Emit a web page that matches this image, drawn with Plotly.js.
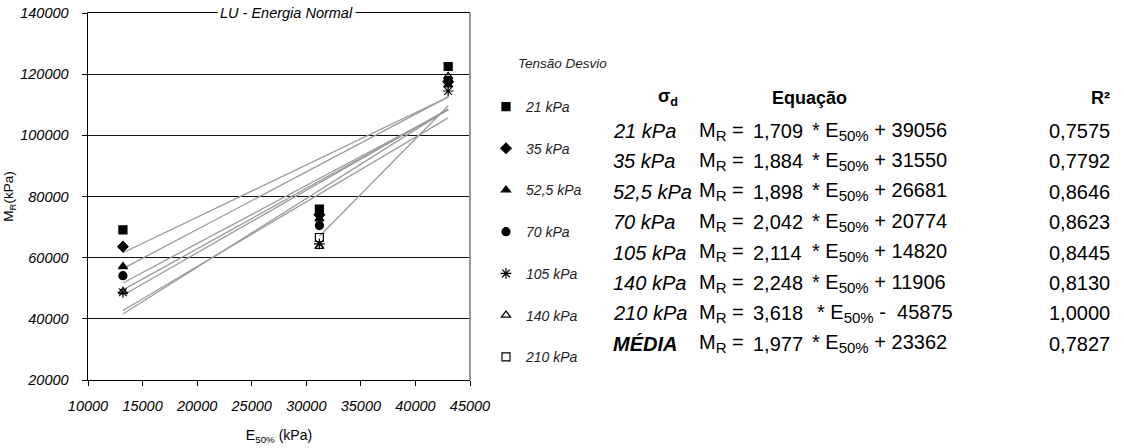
<!DOCTYPE html>
<html>
<head>
<meta charset="utf-8">
<script src="https://cdn.plot.ly/plotly-3.0.1.min.js"></script>
<style>
  html, body { margin: 0; padding: 0; background: #fff; }
  #chart { width: 1124px; height: 448px; }
</style>
</head>
<body>
<div id="chart"></div>
<script>
// E50% of the three specimens (kPa)
const e50 = [13200, 31200, 43000];

// Resilient modulus MR (kPa) per deviator stress, one value per specimen
const stressNames = ['21 kPa', '35 kPa', '52,5 kPa', '70 kPa', '105 kPa', '140 kPa', '210 kPa'];
const mr21  = [69100, 75900, 122500];
const mr35  = [63600, 74000, 117500];
const mr525 = [57100, 72700, 116500];
const mr70  = [54100, 70500, 118000];
const mr105 = [48700, 64500, 114500];
const mr140 = [48900, 63700, 119300];
const mr210 = [null, 66600, null];
const mrSeries = [mr21, mr35, mr525, mr70, mr105, mr140, mr210];

// Linear fits MR = a * E50% + b (last row: average)
const tableLabels = ['21 kPa', '35 kPa', '52,5 kPa', '70 kPa', '105 kPa', '140 kPa', '210 kPa', 'MÉDIA'];
const slopes     = [1.709, 1.884, 1.898, 2.042, 2.114, 2.248, 3.618, 1.977];
const intercepts = [39056, 31550, 26681, 20774, 14820, 11906, -45875, 23362];
const rSquared   = [0.7575, 0.7792, 0.8646, 0.8623, 0.8445, 0.8130, 1.0000, 0.7827];
// first specimen index covered by each fit
const fitFrom    = [0, 0, 0, 0, 0, 0, 1, 0];

// Axis ticks
const xTicks = [10000, 15000, 20000, 25000, 30000, 35000, 40000, 45000];
const yTicks = [20000, 40000, 60000, 80000, 100000, 120000, 140000];

const symbols = ['square', 'diamond', 'triangle-up', 'circle', 'asterisk-open', 'triangle-up-open', 'square-open'];

const SANS = '"Liberation Sans", Arial, sans-serif';

// plot area in page pixels
const L = 88, R = 470, T = 13, B = 380, W = 1124, H = 448;
const px = x => (x - L) / (R - L);
const py = y => (B - y) / (B - T);

const traces = [];

// regression lines
slopes.forEach((a, i) => {
  const xs = [e50[fitFrom[i]], e50[e50.length - 1]];
  traces.push({
    x: xs,
    y: xs.map(v => a * v + intercepts[i]),
    mode: 'lines',
    line: { color: '#9a9a9a', width: 1.3 },
    showlegend: false,
    hoverinfo: 'skip'
  });
});

// measured points
mrSeries.forEach((ys, i) => {
  traces.push({
    x: e50,
    y: ys,
    name: stressNames[i],
    legendgroup: 'g' + i,
    mode: 'markers',
    marker: {
      symbol: symbols[i],
      size: symbols[i] === 'asterisk-open' ? 9 : 8,
      color: '#000',
      line: { color: '#000', width: 1.2 }
    }
  });
});

const fmt = (v, d) => v.toFixed(d).replace('.', ',');

const annotations = [];
// chart title sitting on the top border
annotations.push({
  xref: 'paper', yref: 'paper', x: px(286), y: 1, xanchor: 'center', yanchor: 'middle',
  text: 'LU - Energia Normal', showarrow: false, bgcolor: '#fff', borderpad: 2,
  font: { family: SANS, size: 14.5, style: 'italic', color: '#000' }
});
// legend heading
annotations.push({
  xref: 'paper', yref: 'paper', x: px(516), y: py(63), xanchor: 'left', yanchor: 'middle',
  text: 'Tensão Desvio', showarrow: false,
  font: { family: SANS, size: 13.5, style: 'italic', color: '#222' }
});

// equation table
const headY = 98, rowY0 = 131, rowStep = 30.4;
const head = (x, text, anchor) => annotations.push({
  xref: 'paper', yref: 'paper', x: px(x), y: py(headY), xanchor: anchor, yanchor: 'middle',
  text: text, showarrow: false, font: { family: SANS, size: 18, weight: 'bold', color: '#000' }
});
head(668, '<b>σ</b><sub>d</sub>', 'center');
head(809, 'Equação', 'center');
head(1100, 'R²', 'center');

const FS = 20;
const cell = (x, y, anchor, text, extra) => annotations.push({
  xref: 'paper', yref: 'paper', x: px(x), y: y, xanchor: anchor, yanchor: 'middle',
  showarrow: false, text: text,
  font: Object.assign({ family: SANS, size: FS, color: '#000' }, extra || {})
});
const sub = s => '<sub><span style="font-size:15px">' + s + '</span></sub>';

tableLabels.forEach((lab, i) => {
  const y = py(rowY0 + i * rowStep);
  const isMean = i === tableLabels.length - 1;
  const b = intercepts[i];
  cell(611, y, 'left', lab, { style: 'italic', weight: isMean ? 'bold' : 'normal' });
  cell(697, y, 'left', 'M' + sub('R') + ' =');
  cell(751, y, 'left', fmt(slopes[i], 3));
  cell(b < 0 ? 815 : 810, y, 'left',
       '* E' + sub('50%') + (b < 0 ? ' -  ' : ' + ') + Math.abs(b));
  cell(1112, y, 'right', fmt(rSquared[i], 4));
});

const italicTicks = vals => vals.map(v => '<i>' + v + '</i>');

const layout = {
  width: W, height: H,
  margin: { l: L, r: W - R, t: T, b: H - B, pad: 0 },
  paper_bgcolor: '#fff', plot_bgcolor: '#fff',
  showlegend: true,
  legend: {
    x: px(486), xanchor: 'left', y: py(91), yanchor: 'top',
    font: { family: SANS, size: 14, style: 'italic', color: '#222' },
    tracegroupgap: 20.5, itemwidth: 30, bgcolor: 'rgba(0,0,0,0)'
  },
  xaxis: {
    range: [10000, 45000], tickvals: xTicks, ticktext: italicTicks(xTicks),
    showgrid: false, zeroline: false,
    showline: true, linecolor: '#000', linewidth: 1, mirror: true,
    ticks: 'outside', ticklen: 5, tickcolor: '#000', ticklabelstandoff: 8,
    tickfont: { family: SANS, size: 14.5, color: '#000' },
    title: { text: 'E<sub>50%</sub> (kPa)', font: { family: SANS, size: 14, color: '#000' }, standoff: 16 }
  },
  yaxis: {
    range: [20000, 140000], tickvals: yTicks, ticktext: italicTicks(yTicks),
    showgrid: true, gridcolor: '#111', gridwidth: 1, zeroline: false,
    showline: true, linecolor: '#000', linewidth: 1.5,
    ticks: 'outside', ticklen: 5, tickcolor: '#000', ticklabelstandoff: 10,
    tickfont: { family: SANS, size: 14.5, color: '#000' },
    title: { text: 'M<sub>R</sub>(kPa)', font: { family: SANS, size: 13.5, color: '#000' }, standoff: 3 }
  },
  shapes: [{
    type: 'line', xref: 'paper', yref: 'paper', x0: 1, x1: 1, y0: 0, y1: 1,
    line: { color: '#9a9a9a', width: 2 }
  }],
  annotations: annotations
};

Plotly.newPlot('chart', traces, layout, { staticPlot: true, displayModeBar: false });
</script>
</body>
</html>
